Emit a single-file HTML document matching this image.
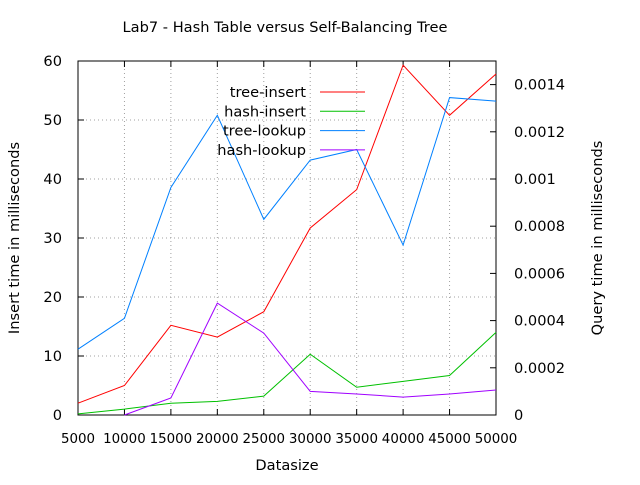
<!DOCTYPE html>
<html><head><meta charset="utf-8"><style>
body{margin:0;background:#fff}
svg text{font-family:"DejaVu Sans","Liberation Sans",sans-serif;font-size:14.6px;fill:#000}
svg text.xt{font-size:13.4px}
</style></head><body>
<svg width="640" height="480" id="c"></svg>
<script>
const categories=[5000,10000,15000,20000,25000,30000,35000,40000,45000,50000];
const treeInsert=[2,5,15.2,13.2,17.5,31.7,38.2,59.3,50.8,57.8];
const hashInsert=[0.2,1,2,2.3,3.2,10.3,4.7,5.7,6.7,14];
const treeLookup=[0.000279,0.00041,0.000964,0.00127,0.000829,0.00108,0.001125,0.00072,0.001345,0.00133];
const hashLookup=[null,0,0.000072,0.000474,0.000347,0.0001,0.000089,0.000076,0.000089,0.000106];
const leftTicks=[0,10,20,30,40,50,60];
const rightTicks=[0,0.0002,0.0004,0.0006,0.0008,0.001,0.0012,0.0014];
const rightTickLabels=["0","0.0002","0.0004","0.0006","0.0008","0.001","0.0012","0.0014"];
const L=78,R=496,T=61,B=415;
const x=v=>L+(v-5000)/45000*(R-L);
const yl=v=>B-v/60*(B-T);
const yr=v=>B-v/0.0015*(B-T);
const svg=document.getElementById('c');const NS='http://www.w3.org/2000/svg';
function mk(t,a,p){const e=document.createElementNS(NS,t);for(const k in a)e.setAttribute(k,a[k]);(p||svg).appendChild(e);return e;}
categories.forEach(c=>{if(c>5000&&c<50000){const g=mk('line',{x1:x(c),x2:x(c),y1:T,y2:B,stroke:'#a0a0a0','stroke-dasharray':'1,3'});

}});
leftTicks.forEach(v=>{if(v>0&&v<60){const g=mk('line',{x1:L,x2:R,y1:yl(v),y2:yl(v),stroke:'#a0a0a0','stroke-dasharray':'1,3'});

}});
const fr=mk('rect',{x:L,y:T,width:R-L,height:B-T,fill:'none',stroke:'#000'});


categories.forEach(c=>{mk('line',{x1:x(c),x2:x(c),y1:B,y2:B-6,stroke:'#000'});mk('line',{x1:x(c),x2:x(c),y1:T,y2:T+6,stroke:'#000'});
const t=mk('text',{x:x(c),y:B+28,'text-anchor':'middle','class':'xt'});t.textContent=c;

});
leftTicks.forEach(v=>{mk('line',{x1:L,x2:L+6,y1:yl(v),y2:yl(v),stroke:'#000'});
const t=mk('text',{x:L-16,y:yl(v)+5,'text-anchor':'end'});t.textContent=v;

});
rightTicks.forEach((v,i)=>{mk('line',{x1:R-6,x2:R,y1:yr(v),y2:yr(v),stroke:'#000'});
const t=mk('text',{x:R+18,y:yr(v)+5});t.textContent=rightTickLabels[i];

});
function series(vals,yf,col,name){const pts=[];vals.forEach((v,i)=>{if(v!==null)pts.push(x(categories[i])+','+yf(v));});
const p=mk('polyline',{points:pts.join(' '),fill:'none',stroke:col,'stroke-width':1});

}
series(treeInsert,yl,'#ff0000','tree-insert-line');
series(hashInsert,yl,'#00c000','hash-insert-line');
series(treeLookup,yr,'#0080ff','tree-lookup-line');
series(hashLookup,yr,'#a000ff','hash-lookup-line');
const leg=[['tree-insert','#ff0000'],['hash-insert','#00c000'],['tree-lookup','#0080ff'],['hash-lookup','#a000ff']];
leg.forEach((l,i)=>{const yy=92+i*19.3;const t=mk('text',{x:306,y:yy+5,'text-anchor':'end'});t.textContent=l[0];


mk('line',{x1:320,x2:365,y1:yy,y2:yy,stroke:l[1]});});
const ti=mk('text',{x:285,y:32,'text-anchor':'middle'});ti.textContent='Lab7 - Hash Table versus Self-Balancing Tree';


const xt=mk('text',{x:287,y:470,'text-anchor':'middle'});xt.textContent='Datasize';


const yt=mk('text',{x:0,y:0,'text-anchor':'middle',transform:'translate(19,238) rotate(-90)'});yt.textContent='Insert time in milliseconds';


const y2=mk('text',{x:0,y:0,'text-anchor':'middle',transform:'translate(602,238) rotate(-90)'});y2.textContent='Query time in milliseconds';


</script>
</body></html>
